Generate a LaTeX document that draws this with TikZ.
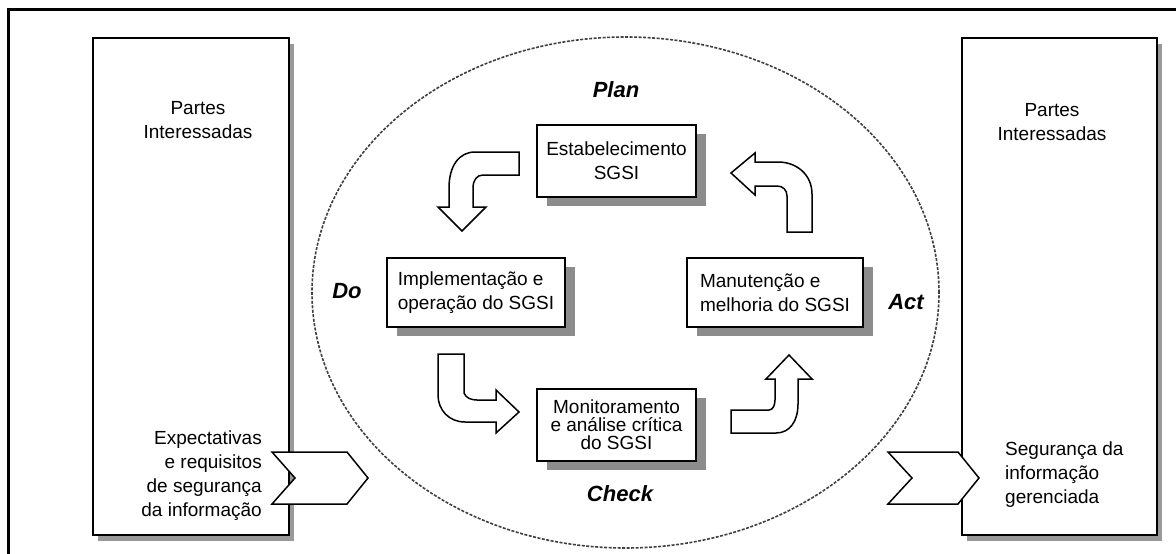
\documentclass[tikz,border=0pt]{standalone}
\usepackage{fontspec}
\setmainfont{Liberation Sans}
\usetikzlibrary{shadows,shapes.geometric}
\definecolor{shadowgray}{gray}{0.55}
\definecolor{bigshadowgray}{gray}{0.6}
\definecolor{dashgray}{gray}{0.25}
\begin{document}
\begin{tikzpicture}[x=1pt,y=-1pt,
  box/.style={draw=black, line width=1.6pt, fill=white, inner sep=0pt,
    font=\fontsize{19}{24}\selectfont},
  bigshadow/.style={general shadow={fill=bigshadowgray, shadow xshift=5pt, shadow yshift=-6pt}},
  smallshadow/.style={general shadow={fill=shadowgray, shadow xshift=10pt, shadow yshift=-9pt}},
  blockarrow/.style={draw=black, line width=1.5pt, fill=white, line join=miter},
  phase/.style={font=\fontsize{22}{26}\selectfont\bfseries\itshape, inner sep=0pt},
  txt/.style={font=\fontsize{19}{24}\selectfont, inner sep=0pt},
  cyclestyle/.style={draw=dashgray, line width=1.6pt, dash pattern=on 3pt off 1.5pt,
    ellipse, inner sep=0pt}
]
\useasboundingbox (0,0) rectangle (1176,554);
\fill[white] (0,0) rectangle (1176,554);
% outer frame
\draw[line width=3pt] (8,9) rectangle (1190,570);

% stakeholder boxes
\node[box, bigshadow, minimum width=196pt, minimum height=497pt] (left) at (191,286.5) {};
\node[box, bigshadow, minimum width=195pt, minimum height=497pt] (right) at (1059.5,286.5) {};

\node[txt, align=center] (lpi) at (198,120) {Partes\\Interessadas};
\node[txt, align=center] (rpi) at (1052,122) {Partes\\Interessadas};
\node[txt, align=right, anchor=east] (expect) at (262,476) {Expectativas\\e requisitos\\de segurança\\da informação};
\node[txt, align=left, anchor=west] (managed) at (1005,475) {Segurança da\\informação\\gerenciada};

% chevrons
\draw[blockarrow] (272,452) -- (347,452) -- (368,478) -- (347,504) -- (272,504) -- (295,478) -- cycle;
\draw[blockarrow] (888,452) -- (958,452) -- (979,478) -- (958,504) -- (888,504) -- (912,478) -- cycle;

% PDCA ellipse
\node[cyclestyle, minimum width=627pt, minimum height=511pt] (cycle) at (625.5,292.5) {};

% process boxes
\node[box, smallshadow, minimum width=159pt, minimum height=72pt, align=center] (est) at (616.5,161)
  {Estabelecimento\\SGSI};
\node[box, smallshadow, minimum width=178pt, minimum height=69pt, align=left] (impl) at (476,292.5)
  {Implementação e\\operação do SGSI};
\node[box, smallshadow, minimum width=176pt, minimum height=69pt, align=left] (man) at (775,292.5)
  {Manutenção e\\melhoria do SGSI};
\node[box, smallshadow, minimum width=159pt, minimum height=72pt, align=center,
  font=\fontsize{19}{18}\selectfont] (mon) at (616.5,425)
  {Monitoramento\\e análise crítica\\do SGSI};

% phase labels
\node[phase, anchor=base] (plan) at (616,97) {Plan};
\node[phase, anchor=base] (check) at (620,501) {Check};
\node[phase, anchor=base] (do) at (347,298) {Do};
\node[phase, anchor=base] (act) at (906,309) {Act};

% curved block arrows
% Plan -> Do
\draw[blockarrow] (519,152) -- (475,152) .. controls (459,152) and (449,166) .. (449,188)
  -- (449,207) -- (438,207) -- (462,231) -- (486,207) -- (473,207) -- (473,188)
  .. controls (473,180) and (477,175) .. (483,175) -- (519,175) -- cycle;
% Act -> Plan
\draw[blockarrow] (787,232) -- (812,232) -- (812,194) .. controls (812,175) and (797,162) .. (778,162)
  -- (755,162) -- (755,153) -- (731,173) -- (755,195) -- (755,186) -- (777,186)
  .. controls (783,186) and (787,190) .. (787,196) -- cycle;
% Do -> Check
\draw[blockarrow] (438,354) -- (464,354) -- (464,393) .. controls (466,398) and (471,400) .. (477,400)
  -- (496,400) -- (496,390) -- (519,412) -- (496,433) -- (496,422) -- (465,422)
  .. controls (449,422) and (438,410) .. (438,395) -- cycle;
% Check -> Act
\draw[blockarrow] (731,410) -- (769,410) .. controls (773,410) and (775,405) .. (775,400)
  -- (775,379) -- (766,379) -- (789,355) -- (812,379) -- (798,379) -- (798,404)
  .. controls (798,421) and (790,433) .. (776,433) -- (731,433) -- cycle;
\end{tikzpicture}
\end{document}
